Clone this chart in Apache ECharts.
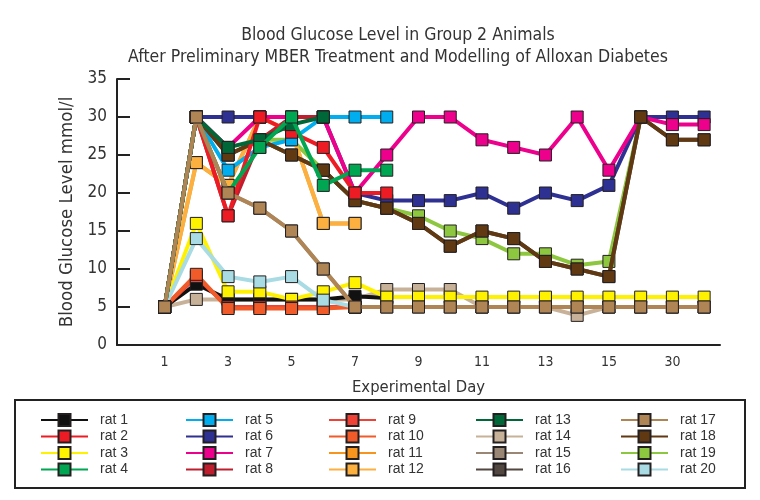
<!DOCTYPE html>
<html><head><meta charset="utf-8">
<script src="https://cdn.jsdelivr.net/npm/echarts@6/dist/echarts.min.js"></script>
<style>html,body{margin:0;padding:0;background:#fff}#c{width:760px;height:500px}</style>
</head><body><div id="c"></div>
<script>
// Category axis (index 0 and the unlabeled ones are hidden)
var days = ['0','1','2','3','4','5','6','7','8','9','10','11','12','13','14','15','20','30','40'];
var yTicks = [0,5,10,15,20,25,30,35];
var ratNames = ['rat 1','rat 2','rat 3','rat 4','rat 5','rat 6','rat 7','rat 8','rat 9','rat 10',
  'rat 11','rat 12','rat 13','rat 14','rat 15','rat 16','rat 17','rat 18','rat 19','rat 20'];
// values from day 1 onward
var rat1  = [5,8,6,6,6,6,6.4,6.2];
var rat2  = [5,30,17,30,28,26,20,20];
var rat3  = [5,16,7,7,6,7,8.2,6.3,6.3,6.3,6.3,6.3,6.3,6.3,6.3,6.3,6.3,6.3];
var rat4  = [5,30,20,26,30,21,23,23];
var rat5  = [5,30,23,26,27,30,30,30];
var rat6  = [5,30,30,30,30,30,20,19,19,19,20,18,20,19,21,30,30,30];
var rat7  = [5,30,26,30,30,30,20,25,30,30,27,26,25,30,23,30,29,29];
var rat8  = [5,30,17,27,30,30];
var rat9  = [5,9,5,5,5,5,5];
var rat10 = [5,9.3,4.8,4.8,4.8,4.8,5];
var rat11 = [5,24,21,30,28,16,16];
var rat12 = [5,24,21,30,28,16,16];
var rat13 = [5,30,26,27,29,30];
var rat14 = [5,6,6,6,6,6,6,7.3,7.3,7.3,5,5,5,3.9,5,5,5,5];
var rat15 = [5,30,20,18,15,10,5,5,5,5,5,5,5,5,5,5,5,5];
var rat16 = [5,30,25,27,25,23,19,18,16,13,15,14,11,10,9,30,27,27];
var rat17 = [5,30,20,18,15,10,5,5,5,5,5,5,5,5,5,5,5,5];
var rat18 = [5,30,25,27,25,23,19,18,16,13,15,14,11,10,9,30,27,27];
var rat19 = [5,30,25,27,27,23,19,18,17,15,14,12,12,10.5,11,30];
var rat20 = [5,14,9,8.3,9,5.9,5];
var ratValues = [rat1,rat2,rat3,rat4,rat5,rat6,rat7,rat8,rat9,rat10,rat11,rat12,rat13,rat14,rat15,rat16,rat17,rat18,rat19,rat20];
var ratColors = ['#111111','#ed1c24','#fff200','#00a651','#00aeef','#2e3192','#ec008c','#be1e2d','#ef4136','#f15a29',
  '#f7941d','#fbb040','#006838','#c7b299','#998675','#534741','#b08556','#603913','#8dc63f','#a8dbe3'];
// drawing order (stacking) of each rat's line
var ratZ = [2,3,2,3.5,2,2,2,2,2,2, 1.8,1.8,3,1,2,2,4,2,1.5,2];

var NARROW = '"Liberation Sans Narrow","DejaVu Sans Condensed","Arial Narrow","Liberation Sans",Arial,sans-serif';
var series = ratNames.map(function(n,i){
  return {
    name:n, type:'line', data:[null].concat(ratValues[i]),
    symbol:'rect', symbolSize:12, z:ratZ[i],
    lineStyle:{color:ratColors[i], width:4},
    itemStyle:{color:ratColors[i], borderColor:'#231f20', borderWidth:1},
    emphasis:{disabled:true}, animation:false
  };
});
var legendLefts = [35,180,323,470,615];
var legends = legendLefts.map(function(l,c){
  return {
    orient:'vertical', left:l, top:408, itemWidth:47, itemHeight:15, itemGap:2.5,
    data: ratNames.slice(c*4, c*4+4),
    selectedMode:false,
    textStyle:{fontSize:14, color:'#333', fontFamily:'"Liberation Sans",Arial,sans-serif', padding:[0,0,0,7]}
  };
});
var chart = echarts.init(document.getElementById('c'), null, {renderer:'canvas'});
chart.setOption({
  backgroundColor:'#fff',
  animation:false,
  title:{text:'Blood Glucose Level in Group 2 Animals\nAfter Preliminary MBER Treatment and Modelling of Alloxan Diabetes',
    left:393, top:19, textAlign:'center',
    textStyle:{fontSize:17.5, fontWeight:'normal', color:'#333', lineHeight:22, fontFamily:NARROW}},
  grid:{left:117, right:40, top:79, bottom:155, containLabel:false},
  xAxis:{type:'category', data:days, boundaryGap:true,
    name:'Experimental Day', nameLocation:'middle', nameGap:34,
    nameTextStyle:{fontSize:16.5, color:'#333', fontFamily:NARROW},
    axisLine:{lineStyle:{color:'#222', width:2}},
    axisTick:{alignWithLabel:true, inside:true, length:7, interval:0, lineStyle:{color:'#222', width:1.5}},
    axisLabel:{interval:function(idx){return idx%2===1;}, fontSize:14, color:'#333', margin:10, fontFamily:NARROW}
  },
  yAxis:{type:'value', min:yTicks[0], max:yTicks[yTicks.length-1], interval:5,
    name:'Blood Glucose Level mmol/l', nameLocation:'middle', nameGap:40,
    nameTextStyle:{fontSize:18.5, color:'#333', fontFamily:NARROW},
    axisLine:{show:true, lineStyle:{color:'#222', width:2}},
    axisTick:{show:true, inside:true, length:13, lineStyle:{color:'#222', width:2}},
    axisLabel:{fontSize:17, color:'#333', margin:10, fontFamily:NARROW},
    splitLine:{show:false}
  },
  legend:legends,
  graphic:[{type:'rect', shape:{x:15, y:400, width:730, height:88}, style:{fill:'none', stroke:'#222', lineWidth:2}, silent:true}],
  series:series
});
</script></body></html>
